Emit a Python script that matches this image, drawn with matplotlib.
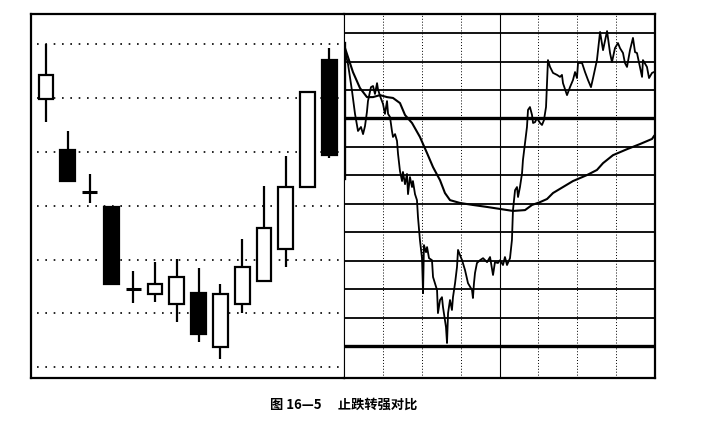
import matplotlib
matplotlib.use("Agg")
import matplotlib.pyplot as plt
import numpy as np

# daily candles (arbitrary price units, one dotted line = 1 unit)
opens = [4.98, 4.03, 3.25, 2.97, 1.45, 1.36, 1.17, 1.38, 0.37, 1.17, 1.60, 2.19, 3.35, 5.71]
highs = [6.00, 4.39, 3.59, 2.97, 1.79, 1.95, 2.01, 1.84, 1.54, 2.38, 3.36, 3.92, 5.11, 5.93]
lows = [4.55, 3.46, 3.05, 1.54, 1.19, 1.21, 0.84, 0.47, 0.15, 1.00, 1.60, 1.86, 3.35, 3.89]
closes = [5.43, 3.46, 3.25, 1.54, 1.45, 1.54, 1.67, 0.61, 1.36, 1.86, 2.58, 3.35, 5.11, 3.94]

# intraday price line: minutes since open, price in grid units vs previous close
price_min = [0, 3.1, 6.2, 8.5, 10.8, 13.1, 14.7, 16.2, 17.7, 18.5, 20.8, 22.4, 23.9, 25.5,
             26.2, 27.8, 30.1, 31.6, 33.2, 34.0, 35.5, 37.0, 37.8, 39.4, 40.9, 41.7, 43.2,
             44.8, 45.5, 47.1, 48.6, 49.4, 50.9, 52.5, 53.2, 54.8, 56.3, 57.1, 58.6, 60.2,
             61.0, 61.7, 63.3, 64.1, 65.6, 67.9, 68.7, 71.8, 72.5, 74.1, 75.6, 76.4, 78.7,
             79.5, 80.3, 81.8, 83.3, 84.1, 85.7, 87.2, 88.0, 89.5, 91.1, 93.4, 95.7, 98.8,
             99.5, 100.3, 101.1, 102.6, 105.0, 107.3, 110.4, 112.7, 115.0, 116.5, 118.8,
             120.4, 122.7, 124.2, 125.8, 128.1, 129.6, 130.4, 132.0, 133.5, 134.3, 135.8,
             137.4, 138.1, 139.7, 141.2, 142.0, 143.5, 145.1, 145.9, 147.4, 148.9, 151.3,
             152.8, 154.3, 155.9, 156.7, 157.4, 159.0, 161.3, 164.4, 166.7, 168.2, 169.0,
             172.1, 174.4, 176.7, 178.3, 179.8, 180.6, 183.7, 186.0, 188.3, 190.6, 192.2,
             195.2, 197.6, 199.9, 203.0, 205.3, 206.8, 209.1, 211.4, 213.0, 215.3, 216.8,
             218.4, 220.7, 223.0, 224.6, 226.1, 228.4, 230.0, 230.7, 233.8, 235.4, 237.7, 239.2]
price_val = [2.51, 1.91, 0.96, 0.16, -0.44, -0.30, -0.55, -0.27, 0.23, 0.61, 1.10, 1.14, 0.86,
             1.24, 1.03, 0.79, 0.51, 0.16, 0.61, 0.16, 0.05, -0.44, -0.65, -0.55, -0.79, -1.25,
             -1.85, -2.20, -1.88, -2.31, -1.95, -2.66, -2.06, -2.41, -2.20, -2.66, -2.87, -3.47,
             -4.27, -4.91, -6.14, -4.45, -4.70, -4.52, -4.91, -4.98, -5.57, -6.03, -6.84, -6.38,
             -6.28, -6.63, -7.33, -7.89, -6.84, -6.38, -6.73, -6.28, -5.79, -5.22, -4.62, -4.80,
             -4.98, -5.33, -5.79, -6.03, -6.31, -5.79, -5.43, -5.08, -4.98, -4.91, -5.05, -4.87,
             -5.50, -5.05, -5.08, -4.98, -5.15, -4.87, -5.15, -4.91, -4.27, -3.22, -2.52, -2.41,
             -2.76, -2.41, -1.92, -1.46, -0.86, -0.30, 0.30, 0.40, 0.12, -0.16, -0.13, 0.01,
             -0.16, -0.23, -0.06, 0.40, 1.24, 2.05, 1.81, 1.60, 1.53, 1.46, 1.53, 1.24, 0.82,
             1.10, 1.35, 1.63, 1.42, 1.95, 1.95, 1.63, 1.35, 1.10, 1.42, 2.05, 3.04, 2.40, 3.07,
             2.30, 1.98, 2.47, 2.65, 2.47, 2.30, 1.95, 1.81, 2.40, 2.83, 2.33, 2.30, 1.81, 1.46,
             2.05, 1.81, 1.42, 1.60, 1.63]

# intraday average price line
avg_min = [0.8, 6.9, 12.3, 17.7, 22.4, 27.8, 33.2, 37.8, 43.2, 47.1, 52.5, 58.6, 64.1, 68.7,
           74.1, 77.9, 81.8, 89.5, 99.5, 110.4, 120.4, 130.4, 139.7, 145.1, 151.3, 156.7,
           161.3, 169.0, 176.7, 187.5, 195.2, 199.9, 207.6, 218.4, 228.4, 237.7, 239.2]
avg_val = [2.47, 1.63, 1.07, 0.75, 0.75, 0.82, 0.75, 0.72, 0.54, 0.12, -0.16, -0.65, -1.22,
           -1.71, -2.17, -2.62, -2.87, -2.97, -3.04, -3.11, -3.18, -3.25, -3.22, -3.04, -2.94,
           -2.83, -2.62, -2.41, -2.20, -1.99, -1.81, -1.57, -1.29, -1.08, -0.90, -0.72, -0.62]

grid_levels = [3, 2, 1, 0, -1, -2, -3, -4, -5, -6, -7, -8]
thick_levels = [0, -8]
time_marks = [30, 60, 90, 150, 180, 210]
caption = "图 16—5　 止跌转强对比"

fig = plt.figure(figsize=(7.13, 4.24), dpi=100)
ax1 = fig.add_axes([31 / 713, 46 / 424, 313 / 713, 364 / 424])
ax2 = fig.add_axes([344 / 713, 46 / 424, 311 / 713, 364 / 424])

# --- left panel: candlesticks ---
x = np.arange(len(opens))
ax1.set_xlim(-0.69, 13.67)
ax1.set_ylim(-0.2, 6.56)
ax1.hlines(range(7), -0.41, 13.67, colors="black", linestyles=(0, (1, 4)), linewidth=1.2)
ax1.vlines(x, lows, highs, colors="black", linewidth=1.6, zorder=2)
for i in x:
    o, c = opens[i], closes[i]
    if abs(c - o) < 1e-6:
        ax1.hlines(o, i - 0.34, i + 0.34, colors="black", linewidth=2.2, zorder=3)
    else:
        face = "white" if c > o else "black"
        ax1.bar(i, abs(c - o), bottom=min(o, c), width=0.68, color=face,
                edgecolor="black", linewidth=1.6, zorder=3)
ax1.set_xticks([])
ax1.set_yticks([])
for side in ["left", "top", "bottom"]:
    ax1.spines[side].set_linewidth(1.6)
ax1.spines["right"].set_linewidth(0.8)

# --- right panel: intraday chart ---
ax2.set_xlim(0, 240)
ax2.set_ylim(-9.12, 3.67)
for lv in grid_levels:
    ax2.axhline(lv, color="black", linewidth=2.4 if lv in thick_levels else 1.3, zorder=1)
ax2.vlines(time_marks, -9.12, 3.67, colors="black", linestyles=(0, (1, 2)), linewidth=0.7)
ax2.axvline(120, color="black", linewidth=0.8)
ax2.axvline(0, ymin=0.549, ymax=0.92, color="black", linewidth=2.4)
ax2.plot(avg_min, avg_val, color="black", linewidth=1.5, zorder=3)
ax2.plot(price_min, price_val, color="black", linewidth=1.3, zorder=4)
ax2.set_xticks([])
ax2.set_yticks([])
ax2.spines["left"].set_linewidth(0.8)
for side in ["right", "top", "bottom"]:
    ax2.spines[side].set_linewidth(1.6)

fig.text(344 / 713, 19 / 424, caption, ha="center", va="center", fontsize=9.5,
         fontweight="bold", family=["Noto Sans CJK SC", "DejaVu Sans"])

fig.savefig("out.png", dpi=100, facecolor="white")
